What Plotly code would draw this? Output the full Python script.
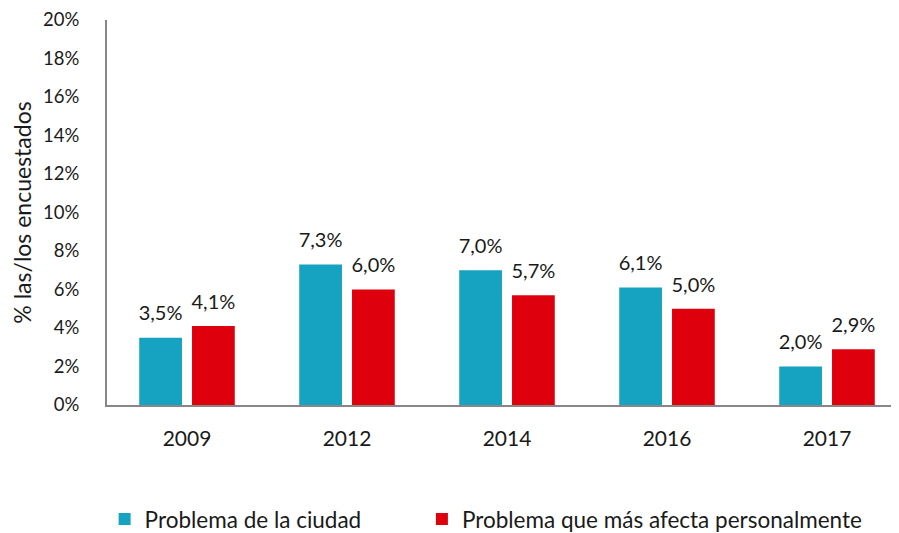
import plotly.graph_objects as go

years = ["2009", "2012", "2014", "2016", "2017"]
ciudad = [3.5, 7.3, 7.0, 6.1, 2.0]
personal = [4.1, 6.0, 5.7, 5.0, 2.9]
series_names = ["Problema de la ciudad", "Problema que más afecta personalmente"]
y_ticks = [0, 2, 4, 6, 8, 10, 12, 14, 16, 18, 20]
y_ticktext = ["0%", "2%", "4%", "6%", "8%", "10%", "12%", "14%", "16%", "18%", "20%"]
y_title = "% las/los encuestados"

FONT = "Lato"
TXT = "#1a1a1a"
colors = ["#16A2C1", "#DE000D"]

fig = go.Figure()
for i, (vals, name, col) in enumerate(zip([ciudad, personal], series_names, colors)):
    fig.add_trace(go.Bar(
        x=years, y=vals, name=name, legend="legend" if i == 0 else "legend2",
        marker=dict(color=col, line=dict(width=0)),
        offsetgroup=str(i),
    ))
for i, vals in enumerate([ciudad, personal]):
    fig.add_trace(go.Scatter(
        x=years, y=vals, mode="markers+text", showlegend=False, hoverinfo="skip",
        marker=dict(size=18, opacity=0),
        texttemplate="%{y:.1f}%", textposition="top center", cliponaxis=False,
        textfont=dict(family=FONT, size=20, color=TXT),
        offsetgroup=str(i),
    ))

legend_common = dict(
    orientation="h", xanchor="left", y=-0.297, yanchor="middle",
    font=dict(family=FONT, size=22.5, color=TXT), bgcolor="rgba(0,0,0,0)",
)

# page body has an 8px default margin: figure is 891x525 so it fits the 899x533 window
fig.update_layout(
    width=891, height=525,
    margin=dict(l=99, r=0, t=12, b=128, autoexpand=False),
    paper_bgcolor="white", plot_bgcolor="white",
    separators=",.",
    barmode="group", bargap=0.34, bargroupgap=0.19,
    scattermode="group", scattergap=0.34,
    font=dict(family=FONT, size=20, color=TXT),
    showlegend=True,
    legend=dict(x=-0.003, **legend_common),
    legend2=dict(x=0.3976, **legend_common),
    xaxis=dict(
        type="category", range=[-0.5, 4.45],
        showline=True, linecolor="#878787", linewidth=2,
        showgrid=False, ticks="", ticklabelstandoff=14,
        tickfont=dict(family=FONT, size=21, color=TXT),
    ),
    yaxis=dict(
        range=[0, 20], tickvals=y_ticks, ticktext=y_ticktext,
        showline=True, linecolor="#878787", linewidth=2,
        showgrid=False, zeroline=False, ticks="", ticklabelstandoff=22,
        tickfont=dict(family=FONT, size=18.5, color=TXT),
        title=dict(text=y_title, font=dict(family=FONT, size=23, color=TXT), standoff=12),
    ),
)

fig.write_html("out.html")
